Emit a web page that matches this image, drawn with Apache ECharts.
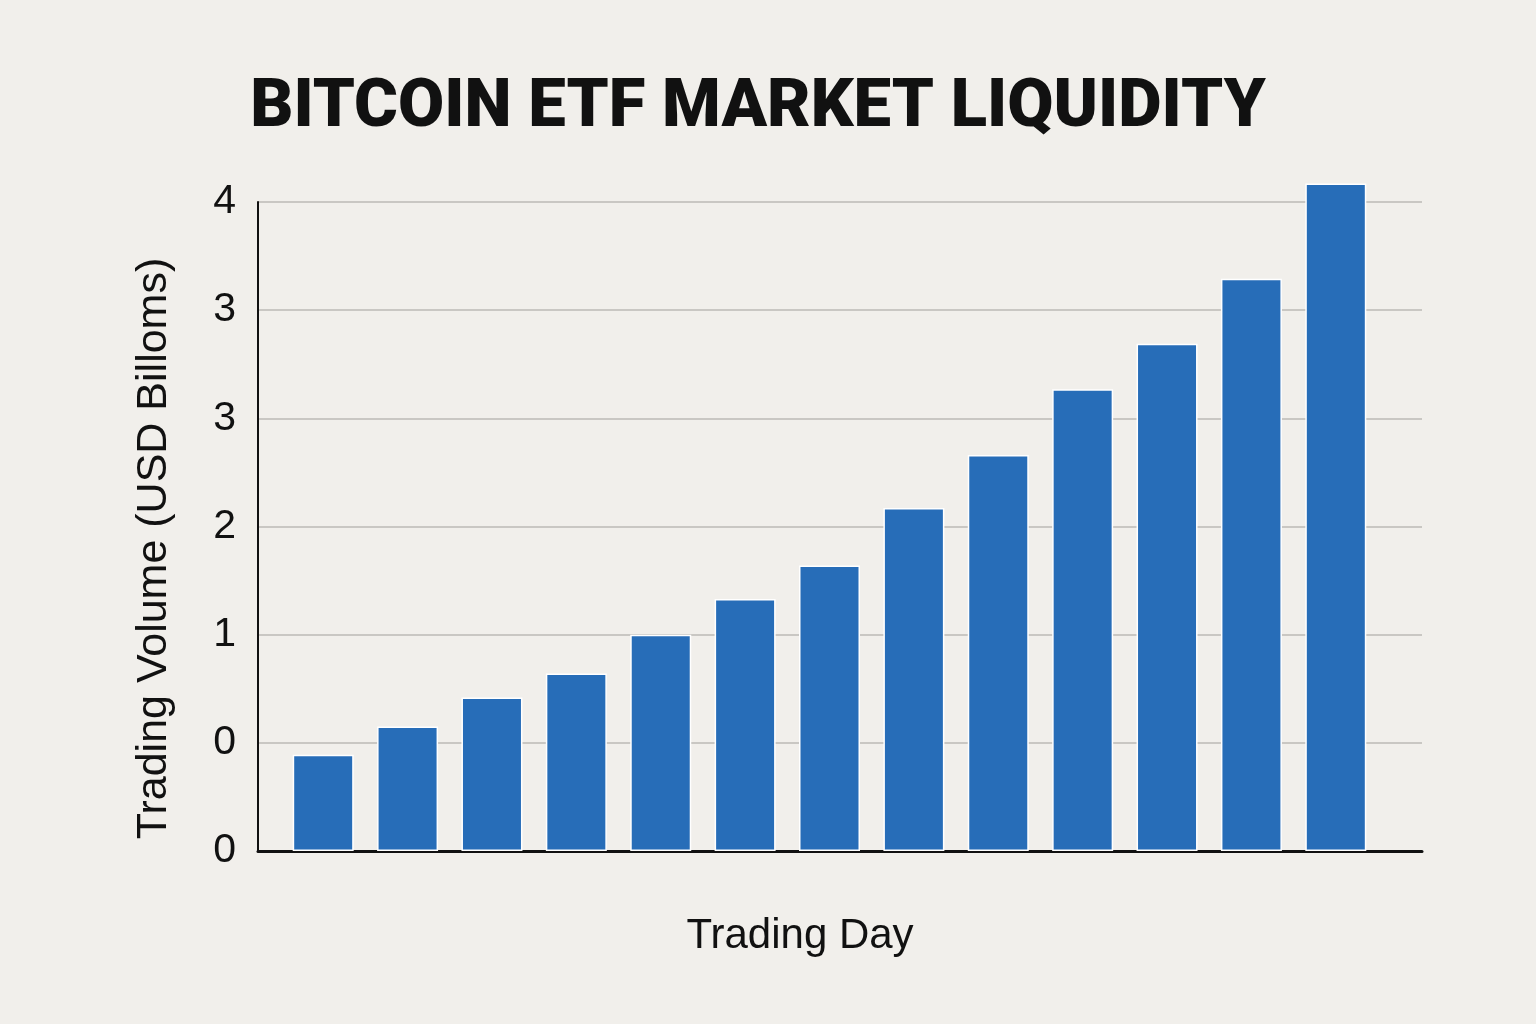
<!DOCTYPE html>
<html>
<head>
<meta charset="utf-8">
<script src="https://cdn.jsdelivr.net/npm/echarts@6/dist/echarts.min.js"></script>
<style>
html,body{margin:0;padding:0;background:#f1efeb;}
#chart{width:1536px;height:1024px;}
</style>
</head>
<body>
<div id="chart"></div>
<script>
const days = ['Day 1','Day 2','Day 3','Day 4','Day 5','Day 6','Day 7','Day 8','Day 9','Day 10','Day 11','Day 12','Day 13'];
const volumes = [0.89, 1.15, 1.42, 1.64, 2.0, 2.33, 2.64, 3.17, 3.66, 4.27, 4.69, 5.29, 6.17];
const tickLabels = ['0','0','1','2','3','3','4'];

const chart = echarts.init(document.getElementById('chart'));
const font = '"Liberation Sans", Arial, sans-serif';
chart.setOption({
  backgroundColor: '#f1efeb',
  animation: false,
  title: {
    text: 'BITCOIN ETF MARKET LIQUIDITY',
    left: 753, top: 71, textAlign: 'center',
    textStyle: {fontFamily: 'Roboto, "Liberation Sans", sans-serif', fontWeight: 900, fontSize: 67, color: '#111111'}
  },
  grid: [
    {left: 258, right: 114, top: 202, bottom: 173},
    {left: 281, right: 158, top: 202, bottom: 173}
  ],
  xAxis: [
    {
      type: 'category', gridIndex: 0, data: days,
      axisLine: {show: true, lineStyle: {color: '#111111', width: 3}},
      axisTick: {show: false}, axisLabel: {show: false},
      name: 'Trading Day', nameLocation: 'middle', nameGap: 64,
      nameTextStyle: {fontFamily: font, fontSize: 42, color: '#111111', padding: [0, 80, 0, 0]}
    },
    {
      type: 'category', gridIndex: 1, data: days,
      axisLine: {show: false}, axisTick: {show: false}, axisLabel: {show: false}
    }
  ],
  yAxis: [
    {
      type: 'value', gridIndex: 0, min: 0, max: 6, interval: 1,
      axisLine: {show: true, lineStyle: {color: '#111111', width: 2}},
      axisTick: {show: false},
      splitLine: {show: true, lineStyle: {color: '#c9c7c3', width: 2}},
      axisLabel: {
        margin: 22, fontFamily: font, fontSize: 41, color: '#111111',
        formatter: v => tickLabels[Math.round(v)]
      },
      name: 'Trading Volume (USD Billoms)', nameLocation: 'middle', nameGap: 82,
      nameTextStyle: {fontFamily: font, fontSize: 43, color: '#111111', padding: [0, 44, 0, 0]}
    },
    {
      type: 'value', gridIndex: 1, min: 0, max: 6, interval: 1,
      axisLine: {show: false}, axisTick: {show: false}, axisLabel: {show: false},
      splitLine: {show: false}
    }
  ],
  series: [{
    type: 'bar', xAxisIndex: 1, yAxisIndex: 1, data: volumes,
    barWidth: 61, clip: false,
    itemStyle: {color: '#276db8', borderColor: '#ffffff', borderWidth: 1.5}
  }]
});
</script>
</body>
</html>
